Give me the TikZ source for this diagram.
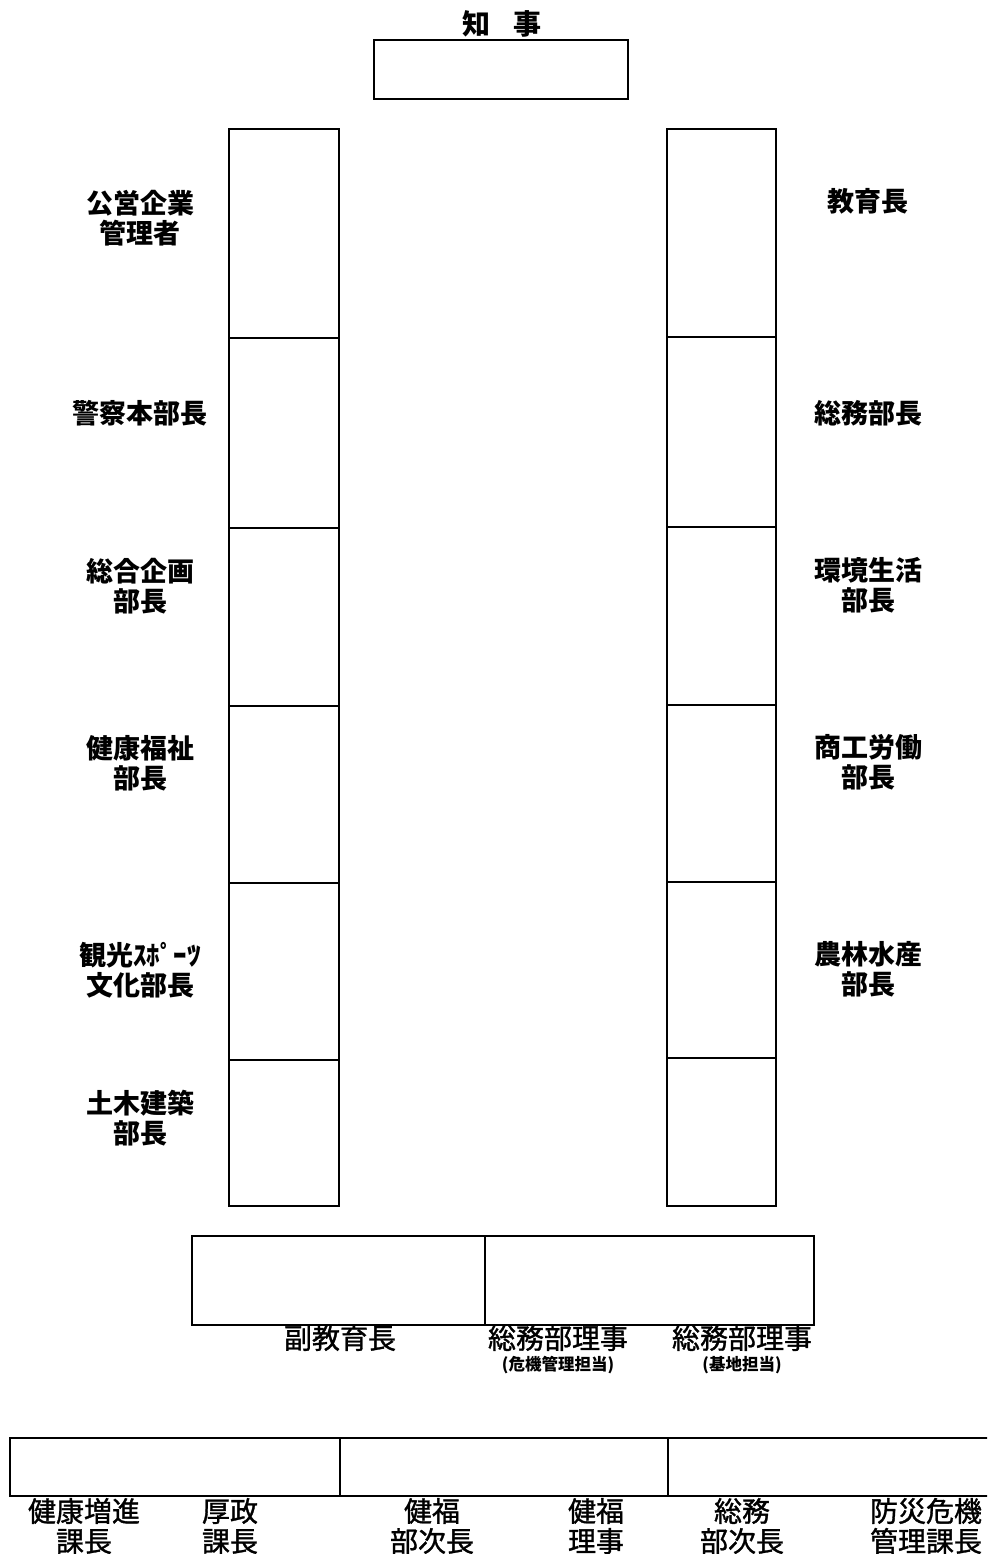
\documentclass[tikz,border=0pt]{standalone}
\usepackage{fontspec}
\setmainfont{Noto Sans CJK JP}
\newfontfamily\medfont[FakeBold=1.2]{Noto Sans CJK JP}
\begin{document}
\begin{tikzpicture}[x=1pt,y=-1pt,
  lab/.style={font=\fontsize{27}{30}\selectfont\bfseries,align=center,inner sep=0pt},
  blab/.style={font=\medfont\fontsize{28}{30}\selectfont,align=center,inner sep=0pt},
  slab/.style={font=\fontsize{16.5}{18}\selectfont\bfseries,align=center,inner sep=0pt}]
\useasboundingbox (0,0) rectangle (987,1554);
\clip (0,0) rectangle (987,1554);
% governor
\node[lab,font=\fontsize{28}{30}\selectfont\bfseries] (tchiji) at (502,24) {知\hspace{0.8em}事};
\draw[line width=2.4pt] (374,40) rectangle (628,99) coordinate (chijibox);
% left column
\foreach \i/\a/\b in {1/129/338,2/338/528,3/528/706,4/706/883,5/883/1060,6/1060/1206}{
  \draw[line width=2.4pt] (229,\a) rectangle (339,\b) coordinate (L\i);
}
% right column
\foreach \i/\a/\b in {1/129/337,2/337/527,3/527/705,4/705/882,5/882/1058,6/1058/1206}{
  \draw[line width=2.4pt] (667,\a) rectangle (776,\b) coordinate (R\i);
}
% left labels
\node[lab] (l1) at (140,218) {公営企業\\管理者};
\node[lab] (l2) at (140,413) {警察本部長};
\node[lab] (l3) at (140,586) {総合企画\\部長};
\node[lab] (l4) at (140,763) {健康福祉\\部長};
\node[lab] (l5) at (140,970) {観光ｽﾎﾟｰﾂ\\文化部長};
\node[lab] (l6) at (140,1118) {土木建築\\部長};
% right labels
\node[lab] (r1) at (868,201) {教育長};
\node[lab] (r2) at (868,413) {総務部長};
\node[lab] (r3) at (868,585) {環境生活\\部長};
\node[lab] (r4) at (868,762) {商工労働\\部長};
\node[lab] (r5) at (868,969) {農林水産\\部長};
% middle row
\draw[line width=2.4pt] (192,1236) rectangle (485,1325) coordinate (M1);
\draw[line width=2.4pt] (485,1236) rectangle (814,1325) coordinate (M2);
\node[blab] (m1) at (340,1338) {副教育長};
\node[blab] (m2) at (558,1338) {総務部理事};
\node[slab] (m2s) at (558,1365) {(危機管理担当)};
\node[blab] (m3) at (742,1338) {総務部理事};
\node[slab] (m3s) at (742,1365) {(基地担当)};
% bottom row
\draw[line width=2.4pt] (10,1438) rectangle (340,1496) coordinate (B1);
\draw[line width=2.4pt] (340,1438) rectangle (668,1496) coordinate (B2);
\draw[line width=2.4pt] (668,1438) rectangle (1000,1496) coordinate (B3);
\node[blab] (b1) at (84,1526) {健康増進\\課長};
\node[blab] (b2) at (230,1526) {厚政\\課長};
\node[blab] (b3) at (432,1526) {健福\\部次長};
\node[blab] (b4) at (596,1526) {健福\\理事};
\node[blab] (b5) at (742,1526) {総務\\部次長};
\node[blab] (b6) at (926,1526) {防災危機\\管理課長};
\end{tikzpicture}
\end{document}
